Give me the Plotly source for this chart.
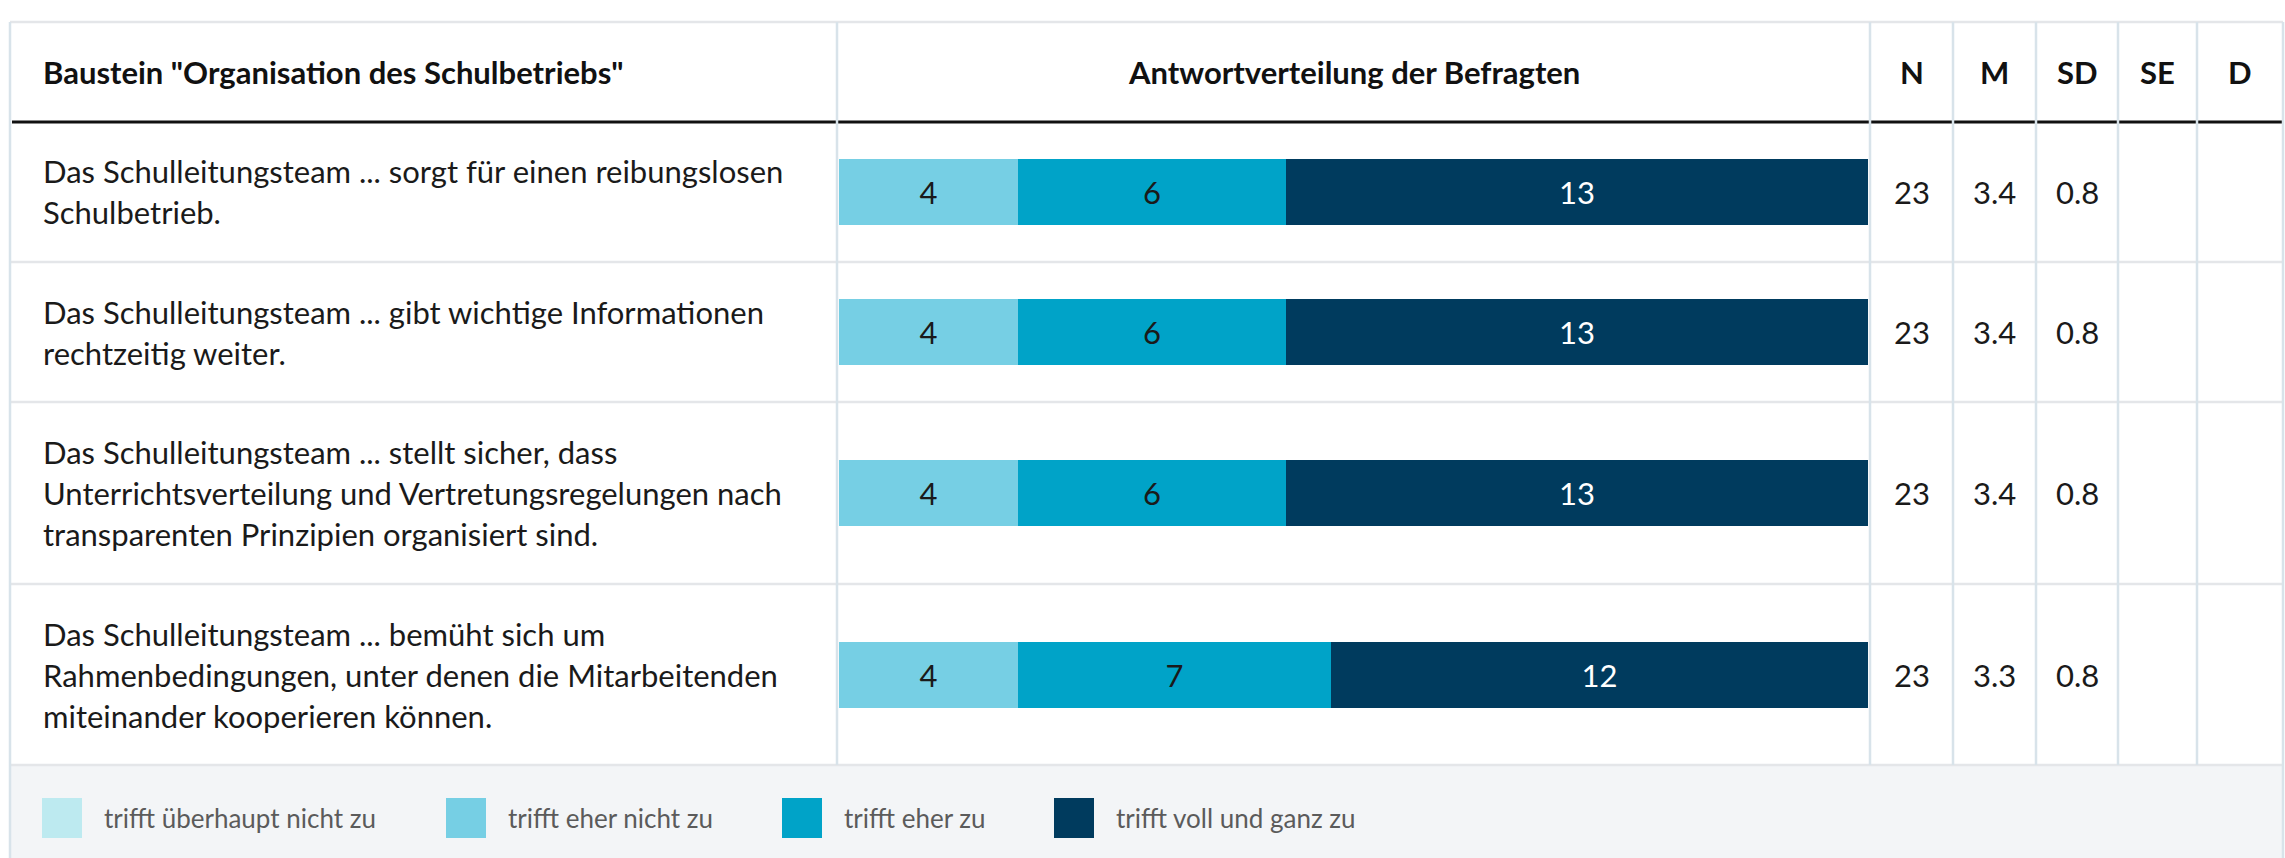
import plotly.graph_objects as go

# ---------------- data ----------------
header_title = 'Baustein "Organisation des Schulbetriebs"'
header_chart = "Antwortverteilung der Befragten"
stat_headers = ["N", "M", "SD", "SE", "D"]

item_lines = [
    ["Das Schulleitungsteam ... sorgt für einen reibungslosen", "Schulbetrieb."],
    ["Das Schulleitungsteam ... gibt wichtige Informationen", "rechtzeitig weiter."],
    ["Das Schulleitungsteam ... stellt sicher, dass",
     "Unterrichtsverteilung und Vertretungsregelungen nach",
     "transparenten Prinzipien organisiert sind."],
    ["Das Schulleitungsteam ... bemüht sich um",
     "Rahmenbedingungen, unter denen die Mitarbeitenden",
     "miteinander kooperieren können."],
]

categories = ["trifft überhaupt nicht zu", "trifft eher nicht zu",
              "trifft eher zu", "trifft voll und ganz zu"]
counts_ueberhaupt_nicht = [0, 0, 0, 0]
counts_eher_nicht = [4, 4, 4, 4]
counts_eher_zu = [6, 6, 6, 7]
counts_voll = [13, 13, 13, 12]
series = [counts_ueberhaupt_nicht, counts_eher_nicht, counts_eher_zu, counts_voll]

stat_N = ["23", "23", "23", "23"]
stat_M = ["3.4", "3.4", "3.4", "3.3"]
stat_SD = ["0.8", "0.8", "0.8", "0.8"]
stat_SE = ["", "", "", ""]
stat_D = ["", "", "", ""]
stats = [stat_N, stat_M, stat_SD, stat_SE, stat_D]

# ---------------- styles / layout constants ----------------
W, H = 2285, 858
colors = ["#bdeaf0", "#76cfe4", "#00a3c8", "#003b5e"]
text_colors = ["#1a1a1a", "#1a1a1a", "#1a1a1a", "#ffffff"]
FONT = "Lato, 'Open Sans', sans-serif"
BODY = 31
HEAD = 31
LEG = 26

left, right = 10, 2283
top = 22
head_bottom = 122
row_bounds = [122, 262, 402, 584, 765]
legend_bottom = 858
col_x = [837, 1870, 1953, 2036, 2118, 2197, 2283]
bar_x0, bar_x1 = 839, 1868
bar_px = 66
line_gap = 41


def px(x):
    return x / W


def py(y):
    return 1 - y / H


fig = go.Figure()

n_rows = len(item_lines)
max_total = max(sum(s[i] for s in series) for i in range(n_rows))

layout_axes = {}
for r in range(n_rows):
    yname = "y" if r == 0 else f"y{r + 1}"
    yk = "yaxis" if r == 0 else f"yaxis{r + 1}"
    rh = row_bounds[r + 1] - row_bounds[r]
    for c, vals in enumerate(series):
        v = vals[r]
        fig.add_trace(go.Bar(
            x=[v], y=[0], orientation="h",
            yaxis=yname, xaxis="x",
            width=bar_px / rh,
            marker=dict(color=colors[c], line=dict(width=0)),
            text=[str(v) if v > 0 else ""],
            textposition="inside", insidetextanchor="middle", textangle=0,
            textfont=dict(family=FONT, size=BODY, color=text_colors[c]),
            name=categories[c], showlegend=False,
            hovertemplate=categories[c] + ": %{x}<extra></extra>",
        ))
    layout_axes[yk] = dict(domain=[py(row_bounds[r + 1]), py(row_bounds[r])],
                           range=[-0.5, 0.5], visible=False, fixedrange=True)

fig.update_layout(**layout_axes)
fig.update_layout(
    xaxis=dict(domain=[px(bar_x0), px(bar_x1)], range=[0, max_total],
               visible=False, fixedrange=True),
    barmode="stack", bargap=0,
    width=W, height=H, autosize=False,
    margin=dict(l=0, r=0, t=0, b=0),
    paper_bgcolor="#ffffff", plot_bgcolor="rgba(0,0,0,0)",
    font=dict(family=FONT, color="#1a1a1a"),
    showlegend=False,
)

shapes = []
# legend background
shapes.append(dict(type="rect", xref="paper", yref="paper",
                   x0=px(left), x1=px(right), y0=py(legend_bottom), y1=py(row_bounds[-1]),
                   fillcolor="#f3f5f7", line=dict(width=0), layer="below"))
# horizontal grey lines
shapes.append(dict(type="line", xref="paper", yref="paper",
                   x0=px(left), x1=px(right), y0=py(top), y1=py(top),
                   line=dict(color="#e4e6e9", width=2.5)))
for yb in row_bounds[1:]:
    shapes.append(dict(type="line", xref="paper", yref="paper",
                       x0=px(left), x1=px(right), y0=py(yb), y1=py(yb),
                       line=dict(color="#e4e6e9", width=2.5)))
# header black line
shapes.append(dict(type="line", xref="paper", yref="paper",
                   x0=px(left + 2), x1=px(right), y0=py(head_bottom), y1=py(head_bottom),
                   line=dict(color="#111111", width=3)))
# vertical dividers
for cx in col_x[:-1]:
    shapes.append(dict(type="line", xref="paper", yref="paper",
                       x0=px(cx), x1=px(cx), y0=py(top), y1=py(row_bounds[-1]),
                       line=dict(color="#d8e3ea", width=2.5)))
# outer left/right borders
for cx in (left, right):
    shapes.append(dict(type="line", xref="paper", yref="paper",
                       x0=px(cx), x1=px(cx), y0=py(top), y1=py(legend_bottom),
                       line=dict(color="#d8e3ea", width=2.5)))

annotations = []
head_y = (top + head_bottom) / 2
annotations.append(dict(xref="paper", yref="paper", x=px(41), y=py(head_y),
                        xanchor="left", yanchor="middle", showarrow=False,
                        text="<b>" + header_title + "</b>",
                        font=dict(family=FONT, size=HEAD, color="#111111")))
annotations.append(dict(xref="paper", yref="paper", x=px((col_x[0] + col_x[1]) / 2), y=py(head_y),
                        xanchor="center", yanchor="middle", showarrow=False,
                        text="<b>" + header_chart + "</b>",
                        font=dict(family=FONT, size=HEAD, color="#111111")))
for k, hname in enumerate(stat_headers):
    cx = (col_x[k + 1] + col_x[k + 2]) / 2
    annotations.append(dict(xref="paper", yref="paper", x=px(cx), y=py(head_y),
                            xanchor="center", yanchor="middle", showarrow=False,
                            text="<b>" + hname + "</b>",
                            font=dict(family=FONT, size=HEAD, color="#111111")))

for r in range(n_rows):
    cy = (row_bounds[r] + row_bounds[r + 1]) / 2
    lines = item_lines[r]
    nl = len(lines)
    for j, ln in enumerate(lines):
        ly = cy + (j - (nl - 1) / 2) * line_gap
        annotations.append(dict(xref="paper", yref="paper", x=px(41), y=py(ly),
                                xanchor="left", yanchor="middle", showarrow=False,
                                text=ln, font=dict(family=FONT, size=BODY, color="#1a1a1a")))
    for k, svals in enumerate(stats):
        if svals[r]:
            cx = (col_x[k + 1] + col_x[k + 2]) / 2
            annotations.append(dict(xref="paper", yref="paper", x=px(cx), y=py(cy),
                                    xanchor="center", yanchor="middle", showarrow=False,
                                    text=svals[r],
                                    font=dict(family=FONT, size=BODY, color="#1a1a1a")))

# legend (squares + labels)
leg_sq_x = [42, 446, 782, 1054]
leg_y = 818
sq = 40
for c, cat in enumerate(categories):
    x0 = leg_sq_x[c]
    shapes.append(dict(type="rect", xref="paper", yref="paper",
                       x0=px(x0), x1=px(x0 + sq), y0=py(leg_y + sq / 2), y1=py(leg_y - sq / 2),
                       fillcolor=colors[c], line=dict(width=0)))
    annotations.append(dict(xref="paper", yref="paper", x=px(x0 + sq + 20), y=py(leg_y),
                            xanchor="left", yanchor="middle", showarrow=False,
                            text=cat, font=dict(family=FONT, size=LEG, color="#5b5b5b")))

fig.update_layout(shapes=shapes, annotations=annotations)
fig.write_html("out.html", config={"displayModeBar": False},
               post_script="document.body.style.margin='0';document.body.style.padding='0';document.body.style.overflow='hidden';")
